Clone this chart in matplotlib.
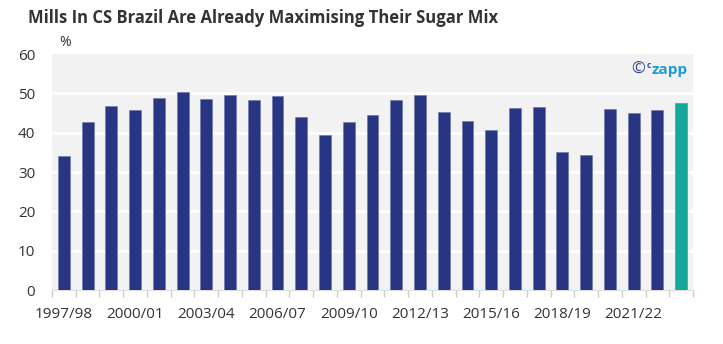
import matplotlib
matplotlib.use("Agg")
import matplotlib.pyplot as plt
import numpy as np

seasons = ["1997/98", "1998/99", "1999/00", "2000/01", "2001/02", "2002/03", "2003/04",
           "2004/05", "2005/06", "2006/07", "2007/08", "2008/09", "2009/10", "2010/11",
           "2011/12", "2012/13", "2013/14", "2014/15", "2015/16", "2016/17", "2017/18",
           "2018/19", "2019/20", "2020/21", "2021/22", "2022/23", "2023/24"]
sugar_mix = [34.0, 42.7, 46.7, 45.7, 48.8, 50.3, 48.6, 49.7, 48.2, 49.4, 44.0, 39.5,
             42.8, 44.6, 48.3, 49.5, 45.2, 42.9, 40.6, 46.2, 46.4, 35.1, 34.3, 46.0,
             45.0, 45.8, 47.6]
yticks = [0, 10, 20, 30, 40, 50, 60]

plt.rcParams['font.family'] = ['Open Sans', 'DejaVu Sans']
fig = plt.figure(figsize=(7.23, 3.44), dpi=100)
ax = fig.add_axes([52/723, 1-290/344, (693-52)/723, (290-54)/344])
ax.set_facecolor('#f2f2f2')

x = np.arange(len(seasons))
colors = ['#283583'] * (len(seasons) - 1) + ['#14a89b']
ax.bar(x, sugar_mix, width=0.5, color=colors, edgecolor='#6a73a8', linewidth=0.4, zorder=3)

ax.set_xlim(-0.5, len(seasons) - 0.5)
ax.set_ylim(0, 60)
ax.set_yticks(yticks)
ax.set_yticklabels([str(v) for v in yticks], fontsize=11, color='#333333')
for v in yticks[1:-1]:
    ax.axhline(v, color='white', linewidth=2, zorder=1)

ax.set_xticks(np.arange(-0.5, len(seasons)))
ax.set_xticklabels([])
ax.tick_params(axis='x', length=5, color='#cccccc', width=1)
ax.tick_params(axis='y', length=0, pad=12)
for i in range(0, len(seasons), 3):
    ax.text(i, -4.2, seasons[i], ha='center', va='top', fontsize=11, color='#333333')

for s in ax.spines.values():
    s.set_visible(False)
ax.spines['bottom'].set_visible(True)
ax.spines['bottom'].set_color('#dddddd')

fig.text(28/723, 1-18/344, "Mills In CS Brazil Are Already Maximising Their Sugar Mix",
         fontsize=12, fontweight='bold', color='#333333', va='center', ha='left')
fig.text(59/723, 1-43/344, "%", fontsize=10, color='#333333', va='center', ha='left')

# logo
fig.text(631/723, 1-70/344, "©", fontsize=12, color='#3b4a8f', ha='left', va='center')
fig.text(647/723, 1-66/344, "c", fontsize=6, color='#3b4a8f', ha='left', va='center', fontweight='bold')
fig.text(652/723, 1-70/344, "zapp", fontsize=11, color='#1f9ad6', ha='left', va='center', fontweight='bold')

fig.savefig("out.png", dpi=100)
